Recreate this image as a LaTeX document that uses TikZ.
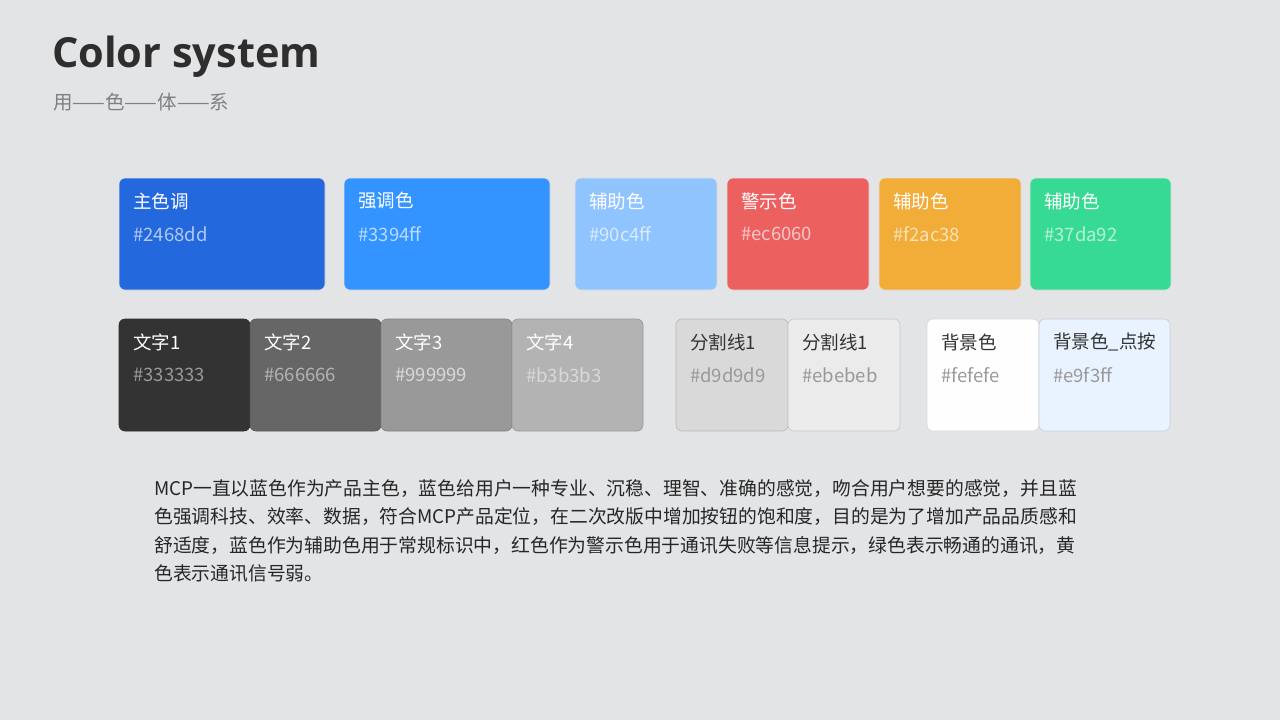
\documentclass[tikz,border=0pt]{standalone}
\usepackage{fontspec}
\setmainfont{Noto Sans CJK SC}
\newfontfamily\titlefont{Open Sans}
\usetikzlibrary{positioning}
\definecolor{bg}{HTML}{E3E4E6}
\definecolor{cA}{HTML}{2468DD}
\definecolor{cB}{HTML}{3394FF}
\definecolor{cC}{HTML}{90C4FF}
\definecolor{cD}{HTML}{EC6060}
\definecolor{cE}{HTML}{F2AC38}
\definecolor{cF}{HTML}{37DA92}
\definecolor{tA}{HTML}{333333}
\definecolor{tB}{HTML}{666666}
\definecolor{tC}{HTML}{999999}
\definecolor{tD}{HTML}{B3B3B3}
\definecolor{lA}{HTML}{D9D9D9}
\definecolor{lB}{HTML}{EBEBEB}
\definecolor{bA}{HTML}{FEFEFE}
\definecolor{bB}{HTML}{E9F3FF}
\begin{document}
\begin{tikzpicture}[x=1pt,y=-1pt,
    swatch/.style={rounded corners=6pt, draw=black!12, line width=0.6pt},
    lbl/.style={anchor=west, inner sep=0pt, font=\fontsize{18.5}{20}\selectfont},
    hex/.style={anchor=west, inner sep=0pt, font=\fontsize{18.5}{20}\selectfont}]
    \fill[bg] (0,0) rectangle (1280,720);

    % title
    \node(title) [anchor=west, inner sep=0pt, text=black!82,
        font=\titlefont\bfseries\fontsize{41.5}{44}\selectfont] at (52,57) {Color system};
    \node(subtitle) [anchor=west, inner sep=0pt, text=black!50,
        font=\fontsize{19.5}{21}\selectfont] at (53,102) {用——色——体——系};

    % top row
    \foreach \x/\w/\c/\n/\h in {119/206/cA/主色调/2468dd, 344/206/cB/强调色/3394ff,
        575/142/cC/辅助色/90c4ff, 727/142/cD/警示色/ec6060,
        879/142/cE/辅助色/f2ac38, 1030/141/cF/辅助色/37da92} {
        \draw[swatch, fill=\c] (\x,178) rectangle ++(\w,112);
        \node(n\h) [lbl, text=white] at (\x+14,201) {\n};
        \node(h\h) [hex, text=white!65!\c] at (\x+14,234) {\#\h};
    }

    % second row
    \foreach \x/\w/\c/\n/\h/\tc/\hc in {119/131/tA/文字1/333333/white/tC,
        250/131/tB/文字2/666666/white/tD, 381/131/tC/文字3/999999/white/lA,
        512/131/tD/文字4/b3b3b3/white/lA, 676/112/lA/分割线1/d9d9d9/tA/tC,
        788/112/lB/分割线1/ebebeb/tA/tC, 927/112/bA/背景色/fefefe/tA/tC,
        1039/131/bB/背景色\_点按/e9f3ff/tA/tC} {
        \draw[swatch, fill=\c, draw=\c!85!black] (\x,319) rectangle ++(\w,112);
        \node(n\h) [lbl, text=\tc] at (\x+14,342) {\n};
        \node(h\h) [hex, text=\hc] at (\x+14,375) {\#\h};
    }

    % description
    \node(desc) [anchor=north west, inner sep=0pt, align=left, text=black!85,
        font=\fontsize{18.8}{28.5}\selectfont] at (154,479)
        {MCP一直以蓝色作为产品主色，蓝色给用户一种专业、沉稳、理智、准确的感觉，吻合用户想要的感觉，并且蓝\\
         色强调科技、效率、数据，符合MCP产品定位，在二次改版中增加按钮的饱和度，目的是为了增加产品品质感和\\
         舒适度，蓝色作为辅助色用于常规标识中，红色作为警示色用于通讯失败等信息提示，绿色表示畅通的通讯，黄\\
         色表示通讯信号弱。};
\end{tikzpicture}
\end{document}
